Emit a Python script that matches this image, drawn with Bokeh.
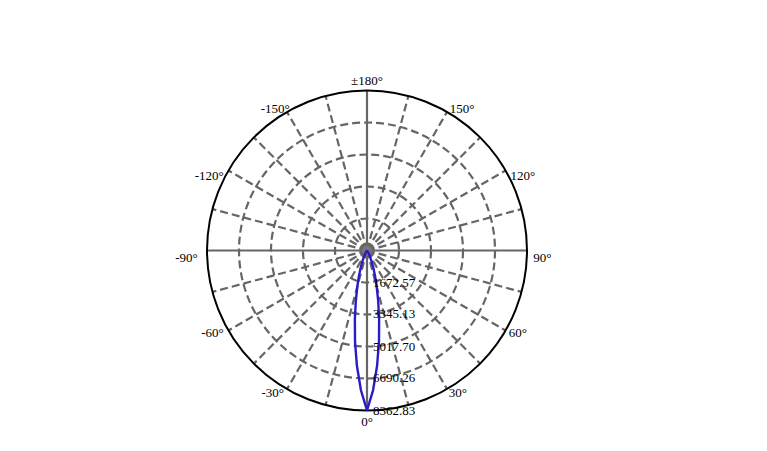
from bokeh.plotting import figure
from bokeh.models import Range1d
from bokeh.core.properties import value
from bokeh.embed import file_html
from bokeh.resources import INLINE
import numpy as np

# ---- data ----
curve_angles = [-60, -50, -40, -35, -30, -25, -22.5, -20, -17.5, -15, -12.5, -10, -7.5, -5, -2.5,
                0, 2.5, 5, 7.5, 10, 12.5, 15, 17.5, 20, 22.5, 25, 30, 35, 40, 50, 60]
curve_values = [0, 0, 20, 60, 170, 420, 650, 980, 1400, 1950, 2700, 3650, 4800, 6050, 7300,
                8362.83, 7300, 6050, 4800, 3650, 2700, 1950, 1400, 980, 650, 420, 170, 60, 20, 0, 0]
ring_values = [1672.57, 3345.13, 5017.70, 6690.26, 8362.83]
ring_labels = ["1672.57", "3345.13", "5017.70", "6690.26", "8362.83"]
label_angles = [180, -150, -120, -90, -60, -30, 0, 30, 60, 90, 120, 150]
label_texts = ["±180°", "-150°", "-120°", "-90°", "-60°", "-30°", "0°", "30°", "60°", "90°", "120°", "150°"]
spoke_step = 15

# ---- layout (pixel offsets of each angle label from its point on the outer circle) ----
label_dx = {180: 0, -150: 2.8, -120: -4.7, -90: -9.3, -60: -4.7, -30: -3,
            0: 0, 30: 1.8, 60: 3.3, 90: 6.2, 120: 5, 150: 2.8}
label_dy = {180: -10.5, -150: -3.4, -120: 5, -90: 6.5, -60: 1.7, -30: 3,
            0: 10.5, 30: 3, 60: 1.7, 90: 6.5, 120: 5, 150: -3.4}

RMAX = ring_values[-1]
W, H = 760, 445
CX, CY = 366.5, 250.0          # centre in figure pixels (from left, from top)
RPX = 160.0
u = RMAX / RPX                 # data units per pixel

p = figure(width=W, height=H, output_backend="svg", toolbar_location=None,
           x_range=Range1d(-CX * u, (W - CX) * u), y_range=Range1d(-(H - CY) * u, CY * u),
           min_border=0)
p.axis.visible = False
p.grid.visible = False
p.outline_line_color = None
p.background_fill_color = "white"
p.border_fill_color = "white"

grid_col = "#666666"
dash = "8 4"

def pt(theta_deg, r):
    t = np.radians(theta_deg)
    return r * np.sin(t), -r * np.cos(t)

# dashed rings
for rv in ring_values[:-1]:
    p.circle(x=0, y=0, radius=rv, fill_color=None, line_color=grid_col,
             line_width=2.2, line_dash=dash)

# spokes
angs = np.arange(0, 360, spoke_step)
main = [a for a in angs if a % 90 == 0]
minor = [a for a in angs if a % 90 != 0]
x1, y1 = pt(np.array(minor, dtype=float), RMAX)
p.segment(x0=[0] * len(minor), y0=[0] * len(minor), x1=list(x1), y1=list(y1),
          line_color=grid_col, line_width=2.2, line_dash=dash)
x1, y1 = pt(np.array(main, dtype=float), RMAX)
p.segment(x0=[0] * len(main), y0=[0] * len(main), x1=list(x1), y1=list(y1),
          line_color=grid_col, line_width=2.2)

# centre disc
p.circle(x=0, y=0, radius=5 * u, fill_color="#777777", line_color=None)

# outer circle
p.circle(x=0, y=0, radius=RMAX, fill_color=None, line_color="black", line_width=2)

# curve
cx, cy = pt(np.array(curve_angles, dtype=float), np.array(curve_values))
p.line(list(cx), list(cy), line_color="#2a1bc8", line_width=2.4)

FONT = value("Liberation Serif")
FS = "13px"
TC = "#000000"

# radial labels
p.text(x=[6 * u] * len(ring_values), y=[-v for v in ring_values], text=ring_labels,
       text_font=FONT, text_font_size=FS, text_color=TC,
       text_align="left", text_baseline="middle")

# angle labels
groups = {"left": ([], [], []), "right": ([], [], []), "center": ([], [], [])}
for a, t in zip(label_angles, label_texts):
    lx, ly = pt(float(a), RMAX)
    lx += label_dx[a] * u
    ly -= label_dy[a] * u
    key = "center" if a in (0, 180) else ("left" if a > 0 else "right")
    groups[key][0].append(lx); groups[key][1].append(ly); groups[key][2].append(t)
for align, (gx, gy, gt) in groups.items():
    p.text(x=gx, y=gy, text=gt, text_align=align, text_baseline="middle",
           text_font=FONT, text_font_size=FS, text_color=TC)

open("out.html", "w").write(file_html(p, INLINE))
